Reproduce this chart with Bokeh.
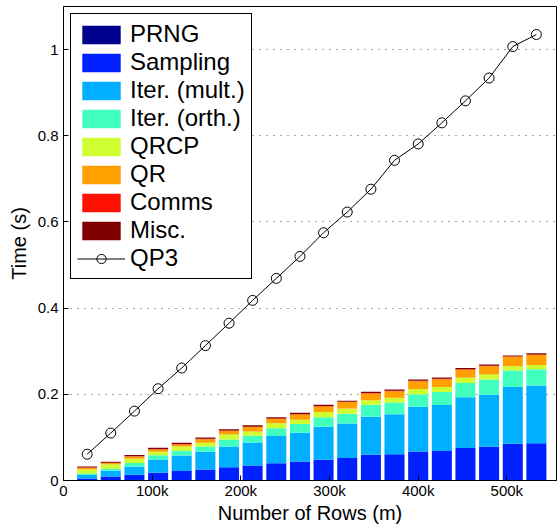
from bokeh.plotting import figure
from bokeh.models import ColumnDataSource, Range1d, FixedTicker, Legend, LegendItem
from bokeh.embed import file_html
from bokeh.resources import INLINE

# x positions (number of rows, in thousands)
rows_k = [26.7, 53.3, 80.0, 106.7, 133.3, 160.0, 186.7, 213.3, 240.0, 266.7,
          293.3, 320.0, 346.7, 373.3, 400.0, 426.7, 453.3, 480.0, 506.7, 533.3]

series_names = ["PRNG", "Sampling", "Iter. (mult.)", "Iter. (orth.)", "QRCP", "QR", "Comms", "Misc."]
series_colors = ["#00008F", "#0020FF", "#00AFFF", "#40FFBF", "#CFFF30", "#FF9F00", "#FF1000", "#800000"]

prng      = [0.0005, 0.0005, 0.0005, 0.0008, 0.0008, 0.0008, 0.001, 0.001, 0.001, 0.001,
             0.001, 0.001, 0.001, 0.001, 0.0012, 0.0012, 0.0012, 0.0012, 0.0012, 0.0012]
sampling  = [0.004, 0.009, 0.013, 0.017, 0.021, 0.025, 0.030, 0.034, 0.039, 0.043,
             0.047, 0.051, 0.059, 0.060, 0.066, 0.067, 0.074, 0.077, 0.084, 0.085]
iter_mult = [0.008, 0.013, 0.019, 0.031, 0.036, 0.041, 0.048, 0.053, 0.063, 0.067,
             0.077, 0.080, 0.088, 0.093, 0.104, 0.107, 0.118, 0.121, 0.132, 0.134]
iter_orth = [0.004, 0.005, 0.008, 0.010, 0.011, 0.012, 0.016, 0.016, 0.018, 0.020,
             0.022, 0.023, 0.028, 0.027, 0.029, 0.030, 0.033, 0.035, 0.038, 0.038]
qrcp      = [0.009, 0.010, 0.010, 0.008, 0.010, 0.009, 0.012, 0.010, 0.012, 0.010,
             0.012, 0.012, 0.010, 0.011, 0.012, 0.012, 0.012, 0.012, 0.010, 0.010]
qr        = [0.004, 0.003, 0.005, 0.005, 0.005, 0.008, 0.008, 0.010, 0.010, 0.012,
             0.013, 0.015, 0.016, 0.015, 0.018, 0.018, 0.019, 0.019, 0.022, 0.023]
comms     = [0.0008, 0.0008, 0.0008, 0.001, 0.001, 0.001, 0.001, 0.001, 0.001, 0.001,
             0.001, 0.001, 0.001, 0.001, 0.001, 0.001, 0.001, 0.001, 0.001, 0.001]
misc      = [0.002, 0.002, 0.003, 0.003, 0.003, 0.003, 0.003, 0.003, 0.003, 0.003,
             0.003, 0.002, 0.003, 0.003, 0.003, 0.003, 0.003, 0.003, 0.002, 0.003]

qp3 = [0.061, 0.110, 0.161, 0.213, 0.261, 0.313, 0.365, 0.418, 0.469, 0.520,
       0.575, 0.623, 0.676, 0.743, 0.781, 0.830, 0.881, 0.934, 1.007, 1.035]

x_ticks = [0, 100, 200, 300, 400, 500]
x_tick_labels = ["0", "100k", "200k", "300k", "400k", "500k"]
y_ticks = [0, 0.2, 0.4, 0.6, 0.8, 1.0]
y_tick_labels = ["0", "0.2", "0.4", "0.6", "0.8", "1"]

keys = ["prng", "sampling", "iter_mult", "iter_orth", "qrcp", "qr", "comms", "misc"]
data = dict(x=rows_k, prng=prng, sampling=sampling, iter_mult=iter_mult, iter_orth=iter_orth,
            qrcp=qrcp, qr=qr, comms=comms, misc=misc, qp3=qp3)
src = ColumnDataSource(data)

FONT = "Liberation Sans"

p = figure(width=557, height=526, x_range=Range1d(0, 556), y_range=Range1d(0, 1.1),
           output_backend="svg", toolbar_location=None,
           min_border_left=63, min_border_right=1, min_border_top=6, min_border_bottom=0)

bars = p.vbar_stack(keys, x="x", width=22.6, source=src, color=series_colors, line_color=None)
ln = p.line("x", "qp3", source=src, line_color="black", line_width=1)
sc = p.scatter("x", "qp3", source=src, size=10, fill_alpha=0, line_color="black", line_width=1)

# axes
p.xaxis.ticker = FixedTicker(ticks=x_ticks)
p.xaxis.major_label_overrides = {t: l for t, l in zip(x_ticks, x_tick_labels)}
p.yaxis.ticker = FixedTicker(ticks=y_ticks)
p.yaxis.major_label_overrides = {t: l for t, l in zip(y_ticks, y_tick_labels)}
p.xaxis.axis_label = "Number of Rows (m)"
p.yaxis.axis_label = "Time (s)"
for ax in (p.xaxis[0], p.yaxis[0]):
    ax.axis_label_text_font = FONT
    ax.axis_label_text_font_size = "20px"
    ax.axis_label_text_font_style = "normal"
    ax.axis_label_text_color = "black"
    ax.major_label_text_font = FONT
    ax.major_label_text_font_size = "15px"
    ax.major_label_text_color = "black"
    ax.major_tick_in = 5
    ax.major_tick_out = 0
    ax.minor_tick_line_color = None
    ax.axis_line_color = "black"
    ax.major_tick_line_color = "black"
p.xaxis.major_label_standoff = 1
p.xaxis.axis_label_standoff = 0
p.yaxis.major_label_standoff = 5
p.yaxis.axis_label_standoff = 5

p.xgrid.grid_line_color = None
p.ygrid.grid_line_color = "black"
p.ygrid.grid_line_alpha = 0.7
p.ygrid.grid_line_dash = "1 6"
p.ygrid.ticker = FixedTicker(ticks=y_ticks)

p.outline_line_color = "black"
p.outline_line_alpha = 1
p.outline_line_width = 1
p.background_fill_color = "white"

items = [LegendItem(label=n, renderers=[r]) for n, r in zip(series_names, bars)]
items.append(LegendItem(label="QP3", renderers=[ln, sc]))
legend = Legend(items=items, location="top_left", margin=7, padding=6, spacing=0,
                glyph_width=48, glyph_height=23, label_height=23, label_standoff=5,
                label_text_font=FONT, label_text_font_size="24px", label_text_color="black",
                border_line_color="black", border_line_width=1, border_line_alpha=1,
                background_fill_alpha=1)
p.add_layout(legend)

open("out.html", "w").write(file_html(p, INLINE))
